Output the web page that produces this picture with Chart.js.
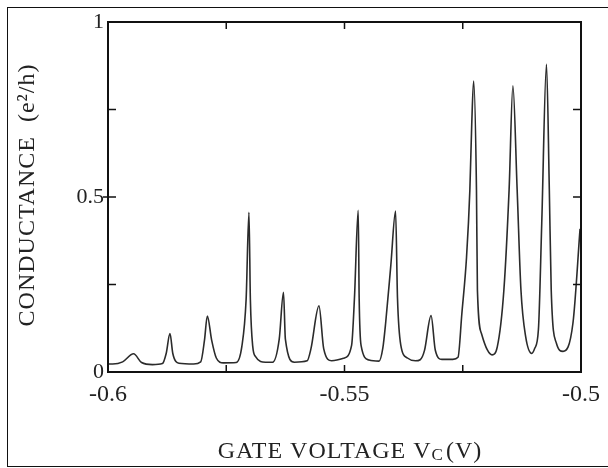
<!DOCTYPE html>
<html>
<head>
<meta charset="utf-8">
<script src="https://cdn.jsdelivr.net/npm/chart.js@4"></script>
<style>
  html, body { margin: 0; padding: 0; background: #fff; overflow: hidden; }
  #frame { position: absolute; left: 7px; top: 7px; width: 620px; height: 458px; border: 1.5px solid #111; }
  #canvas { position: absolute; left: 0; top: 0; }
</style>
</head>
<body>
<div id="frame"></div>
<canvas id="canvas" width="608" height="468"></canvas>
<script>
// gate voltage (V) and conductance (e^2/h)
const gateVoltage = [
  -0.6000, -0.5990, -0.5969, -0.5946, -0.5929, -0.5906, -0.5885, -0.5877, -0.5869, -0.5863,
  -0.5850, -0.5819, -0.5804, -0.5796, -0.5790, -0.5781, -0.5771, -0.5756, -0.5729, -0.5717,
  -0.5708, -0.5702, -0.5699, -0.5694, -0.5688, -0.5667, -0.5652, -0.5638, -0.5629, -0.5625,
  -0.5606, -0.5579, -0.5571, -0.5554, -0.5544, -0.5527, -0.5502, -0.5485, -0.5479, -0.5471,
  -0.5469, -0.5465, -0.5448, -0.5427, -0.5419, -0.5413, -0.5402, -0.5392, -0.5388, -0.5381,
  -0.5367, -0.5350, -0.5340, -0.5331, -0.5317, -0.5308, -0.5294, -0.5271, -0.5260, -0.5252,
  -0.5242, -0.5235, -0.5231, -0.5227, -0.5221, -0.5219, -0.5210, -0.5198, -0.5188, -0.5177,
  -0.5163, -0.5152, -0.5144, -0.5135, -0.5127, -0.5117, -0.5104, -0.5098, -0.5090, -0.5083,
  -0.5073, -0.5067, -0.5063, -0.5052, -0.5038, -0.5017, -0.5002
];
const conductance = [
  0.023, 0.023, 0.029, 0.052, 0.027, 0.021, 0.024, 0.053, 0.110, 0.053,
  0.025, 0.023, 0.029, 0.091, 0.160, 0.092, 0.040, 0.026, 0.027, 0.073,
  0.207, 0.456, 0.207, 0.073, 0.044, 0.028, 0.028, 0.094, 0.228, 0.094,
  0.028, 0.032, 0.066, 0.189, 0.067, 0.032, 0.039, 0.076, 0.210, 0.462,
  0.210, 0.076, 0.034, 0.031, 0.068, 0.140, 0.306, 0.460, 0.212, 0.077,
  0.040, 0.032, 0.035, 0.061, 0.161, 0.062, 0.036, 0.036, 0.042, 0.165,
  0.328, 0.519, 0.708, 0.831, 0.520, 0.234, 0.108, 0.063, 0.049, 0.072,
  0.235, 0.521, 0.818, 0.521, 0.235, 0.101, 0.053, 0.067, 0.122, 0.425,
  0.879, 0.522, 0.236, 0.082, 0.059, 0.140, 0.409
];

const xTickValues = [-0.6, -0.55, -0.5];
const xTickLabels = ['-0.6', '-0.55', '-0.5'];
const yTickValues = [0, 0.5, 1];
const yTickLabels = ['0', '0.5', '1'];
const xMinorTicks = [-0.575, -0.55, -0.525];
const yMinorTicks = [0.25, 0.5, 0.75];

const xTitle = ['GATE VOLTAGE V', 'C', '(V)'];
const yTitle = 'CONDUCTANCE  (e\u00b2/h)';

const serif = '"Liberation Serif", "Times New Roman", serif';

function labelFor(v, values, labels) {
  const i = values.findIndex(t => Math.abs(t - v) < 1e-6);
  return i >= 0 ? labels[i] : '';
}

const framePlugin = {
  id: 'frame',
  afterDraw(chart) {
    const { ctx, chartArea: a, scales } = chart;
    const x = scales.x, y = scales.y;
    ctx.save();
    ctx.strokeStyle = '#111';
    ctx.lineWidth = 2;
    ctx.strokeRect(a.left, a.top, a.right - a.left, a.bottom - a.top);

    ctx.lineWidth = 1.5;
    ctx.beginPath();
    xMinorTicks.forEach(v => {
      const px = x.getPixelForValue(v);
      ctx.moveTo(px, a.bottom); ctx.lineTo(px, a.bottom - 7);
      ctx.moveTo(px, a.top); ctx.lineTo(px, a.top + 7);
    });
    yMinorTicks.forEach(v => {
      const py = y.getPixelForValue(v);
      ctx.moveTo(a.left, py); ctx.lineTo(a.left + 8, py);
      ctx.moveTo(a.right, py); ctx.lineTo(a.right - 8, py);
    });
    const mid = y.getPixelForValue(0.5);
    ctx.moveTo(a.left - 5, mid); ctx.lineTo(a.left, mid);
    ctx.stroke();

    // axis titles
    ctx.fillStyle = '#222';
    ctx.letterSpacing = '1px';
    ctx.font = '24px ' + serif;
    ctx.textBaseline = 'middle';

    ctx.save();
    ctx.translate(28, 195);
    ctx.rotate(-Math.PI / 2);
    ctx.textAlign = 'center';
    ctx.fillText(yTitle, 0, 0);
    ctx.restore();

    ctx.textAlign = 'left';
    const big = '24px ' + serif, small = '17px ' + serif;
    ctx.font = big;
    const w1 = ctx.measureText(xTitle[0]).width;
    const w3 = ctx.measureText(xTitle[2]).width;
    ctx.font = small;
    const w2 = ctx.measureText(xTitle[1]).width;
    let sx = 350 - (w1 + w2 + w3 + 2) / 2;
    const ty = 452;
    ctx.font = big;
    ctx.fillText(xTitle[0], sx, ty);
    sx += w1;
    ctx.font = small;
    ctx.fillText(xTitle[1], sx, ty + 4);
    sx += w2 + 2;
    ctx.font = big;
    ctx.fillText(xTitle[2], sx, ty);
    ctx.restore();
  }
};

const ctx = document.getElementById('canvas').getContext('2d');
new Chart(ctx, {
  type: 'line',
  data: {
    datasets: [{
      data: gateVoltage.map((v, i) => ({ x: v, y: conductance[i] })),
      borderColor: '#2b2b2b',
      borderWidth: 1.6,
      pointRadius: 0,
      fill: false,
      cubicInterpolationMode: 'monotone'
    }]
  },
  options: {
    responsive: false,
    animation: false,
    events: [],
    layout: { autoPadding: false, padding: { top: 22, right: 20, left: 0, bottom: 0 } },
    plugins: { legend: { display: false }, tooltip: { enabled: false } },
    scales: {
      x: {
        type: 'linear',
        min: -0.6,
        max: -0.5,
        afterFit: s => { s.height = 96; },
        grid: { display: false, drawTicks: false },
        border: { display: false },
        ticks: {
          stepSize: 0.025,
          autoSkip: false,
          maxRotation: 0,
          padding: 8,
          color: '#222',
          font: { family: serif, size: 24 },
          callback: v => labelFor(v, xTickValues, xTickLabels)
        }
      },
      y: {
        min: 0,
        max: 1,
        afterFit: s => { s.width = 108; },
        grid: { display: false, drawTicks: false },
        border: { display: false },
        ticks: {
          stepSize: 0.25,
          autoSkip: false,
          padding: 4,
          color: '#222',
          font: { family: serif, size: 22 },
          callback: v => labelFor(v, yTickValues, yTickLabels)
        }
      }
    }
  },
  plugins: [framePlugin]
});
</script>
</body>
</html>
